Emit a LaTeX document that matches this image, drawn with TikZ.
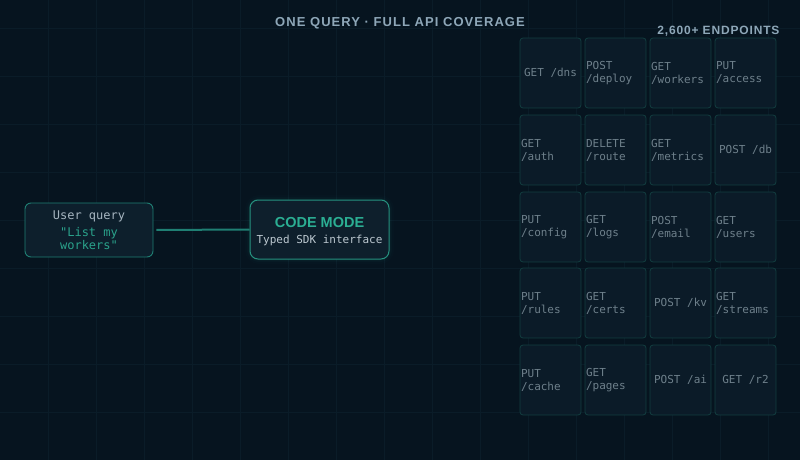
\documentclass[tikz,border=0pt]{standalone}
\usepackage{fontspec}
\setmainfont{Liberation Sans}
\setmonofont{DejaVu Sans Mono}
\usepackage{xcolor}
\usetikzlibrary{positioning}

\definecolor{bgdark}{HTML}{06141F}
\definecolor{gridln}{HTML}{0A1C28}
\definecolor{epfill}{HTML}{0B1B28}
\definecolor{epline}{HTML}{123D3F}
\definecolor{eptext}{HTML}{6E808B}
\definecolor{headtxt}{HTML}{8EA7B8}
\definecolor{qfill}{HTML}{0D1F2C}
\definecolor{qline}{HTML}{1F7F73}
\definecolor{qtext}{HTML}{A6B5C0}
\definecolor{teal}{HTML}{2AA28B}
\definecolor{cmfill}{HTML}{0E1F2C}
\definecolor{cmline}{HTML}{26917F}
\definecolor{cmhead}{HTML}{2BAE93}
\definecolor{cmsub}{HTML}{BCC8D0}

\begin{document}
\begin{tikzpicture}[x=1pt,y=-1pt,
    heading/.style={text=headtxt,font=\fontsize{13}{15}\selectfont\bfseries\addfontfeature{LetterSpace=8}},
    endpt/.style={draw=epline,fill=epfill,rounded corners=3pt,line width=0.8pt,
        minimum width=61pt,minimum height=70pt,inner sep=1pt,text=eptext,
        font=\fontsize{11}{13}\selectfont\ttfamily},
    endptl/.style={endpt,text width=59pt,align=left},
    endptc/.style={endpt,align=center},
    querybox/.style={draw=qline,fill=qfill,rounded corners=6pt,line width=0.9pt,
        minimum width=128pt,minimum height=54pt,inner sep=2pt,align=center,
        font=\fontsize{12}{13}\selectfont\ttfamily},
    codebox/.style={draw=cmline,fill=cmfill,rounded corners=8pt,line width=1pt,
        minimum width=139pt,minimum height=59pt,inner sep=2pt,align=center},
    link/.style={draw=qline,line width=2pt}]

    % background and grid
    \fill[bgdark] (0,0) rectangle (800,460);
    \useasboundingbox (0,0) rectangle (800,460);
    \foreach \gx in {48,96,...,768}
        \draw[gridln,line width=0.6pt] (\gx,0) -- (\gx,460);
    \foreach \gy in {28,76,...,460}
        \draw[gridln,line width=0.6pt] (0,\gy) -- (800,\gy);

    % titles
    \node[heading] (title) at (400,23) {ONE QUERY · FULL API COVERAGE};
    \node[heading,font=\fontsize{12}{14}\selectfont\bfseries\addfontfeature{LetterSpace=7},
        anchor=east] (count) at (783,31) {2,600+ ENDPOINTS};

    % query and code mode
    \node[querybox] (query) at (89,230)
        {\textcolor{qtext}{User query}\\[4pt]\textcolor{teal}{"List my}\\\textcolor{teal}{workers"}};
    \foreach \g/\o in {10/0.025,6/0.04,3/0.06}
        \draw[cmline,line width=\g pt,opacity=\o,rounded corners=9pt] (250,200) rectangle (389,259);
    \node[codebox] (codemode) at (319.5,229.5)
        {\rule{0pt}{15pt}\textcolor{cmhead}{\fontsize{14.5}{16}\selectfont\bfseries CODE MODE}\\[4pt]
         \textcolor{cmsub}{\fontsize{11}{13}\selectfont\ttfamily Typed SDK interface}};
    \draw[link,shorten <=3pt] (query.east) -- (codemode.west);

    % endpoint grid
    \node[endptc] (dns)     at (550.5,73) {GET /dns};
    \node[endptl] (deploy)  at (615.5,73) {POST\\/deploy};
    \node[endptl] (workers) at (680.5,73) {GET\\/workers};
    \node[endptl] (access)  at (745.5,73) {PUT\\/access};

    \node[endptl] (auth)    at (550.5,150) {GET\\/auth};
    \node[endptl] (route)   at (615.5,150) {DELETE\\/route};
    \node[endptl] (metrics) at (680.5,150) {GET\\/metrics};
    \node[endptc] (db)      at (745.5,150) {POST /db};

    \node[endptl] (config)  at (550.5,227) {PUT\\/config};
    \node[endptl] (logs)    at (615.5,227) {GET\\/logs};
    \node[endptl] (email)   at (680.5,227) {POST\\/email};
    \node[endptl] (users)   at (745.5,227) {GET\\/users};

    \node[endptl] (rules)   at (550.5,303) {PUT\\/rules};
    \node[endptl] (certs)   at (615.5,303) {GET\\/certs};
    \node[endptc] (kv)      at (680.5,303) {POST /kv};
    \node[endptl] (streams) at (745.5,303) {GET\\/streams};

    \node[endptl] (cache)   at (550.5,380) {PUT\\/cache};
    \node[endptl] (pages)   at (615.5,380) {GET\\/pages};
    \node[endptc] (ai)      at (680.5,380) {POST /ai};
    \node[endptc] (rtwo)    at (745.5,380) {GET /r2};
\end{tikzpicture}
\end{document}
